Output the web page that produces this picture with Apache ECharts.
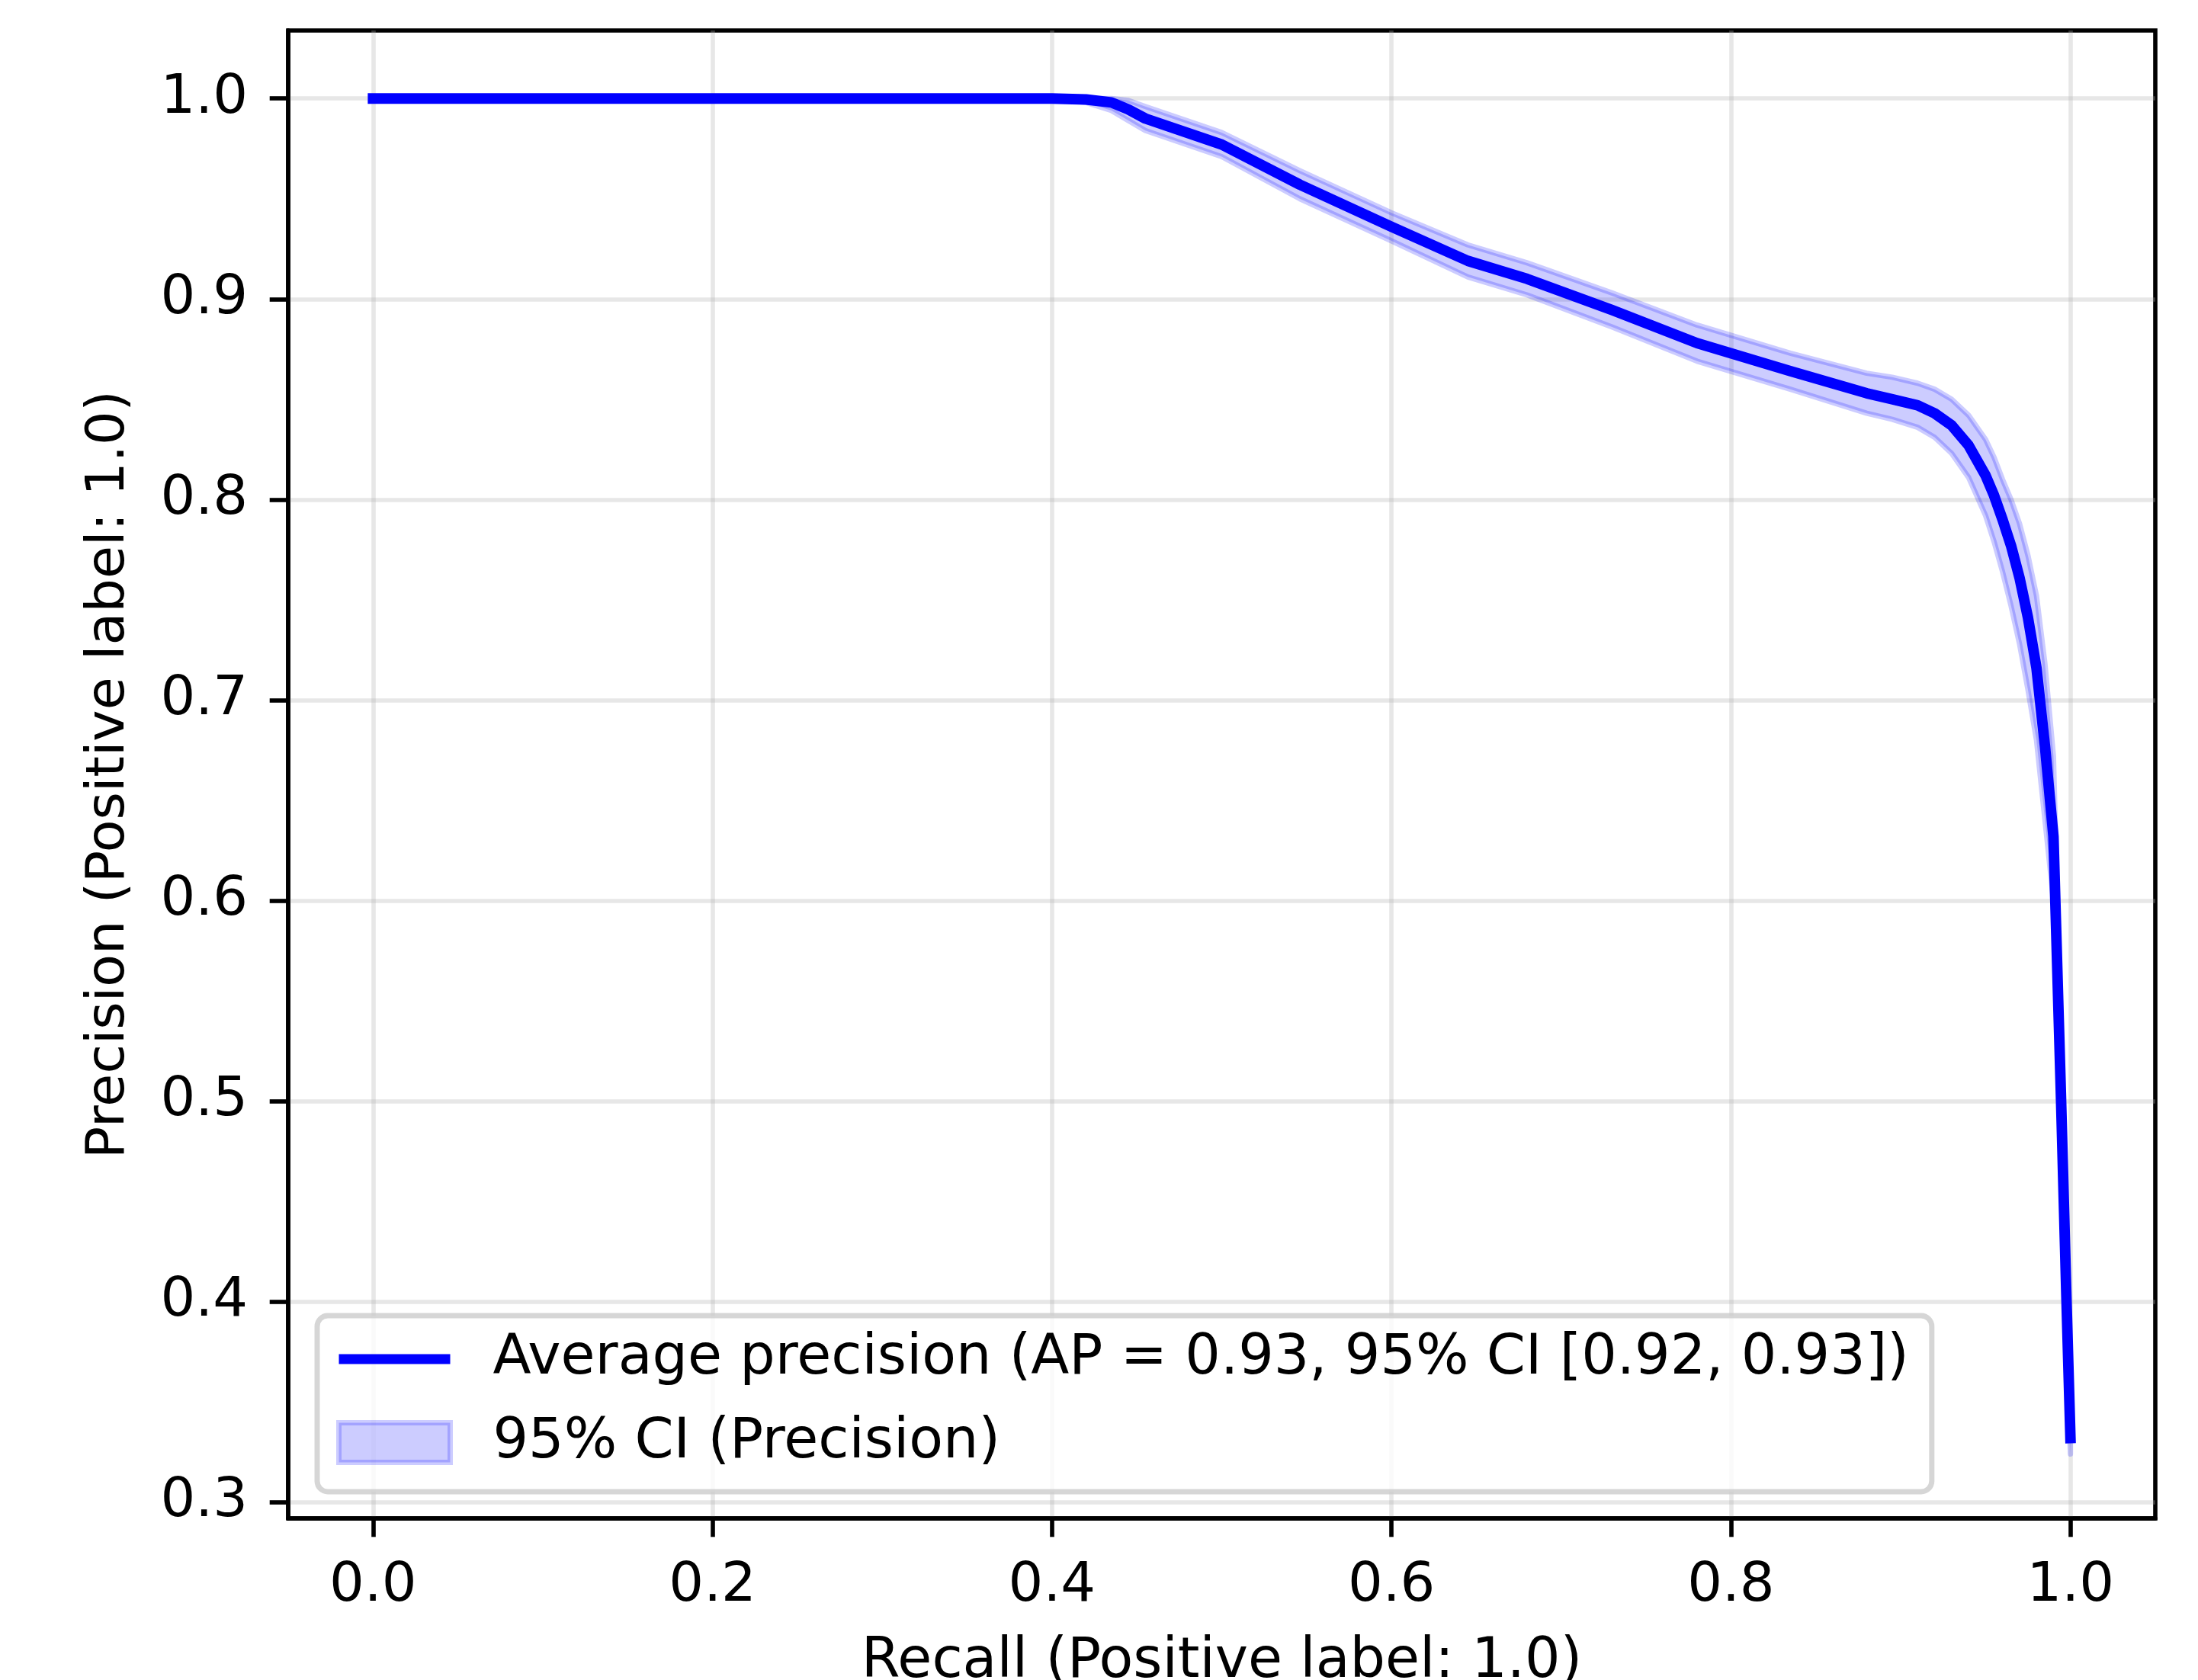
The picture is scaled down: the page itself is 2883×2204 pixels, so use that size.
<!DOCTYPE html>
<html>
<head>
<meta charset="utf-8">
<script src="https://cdn.jsdelivr.net/npm/echarts@6/dist/echarts.min.js"></script>
<style>
  html, body { margin: 0; padding: 0; background: #fff; }
  #chart { width: 2883px; height: 2204px; }
</style>
</head>
<body>
<div id="chart"></div>
<script>
// values
const recall = [0.0, 0.1, 0.2, 0.3, 0.4, 0.42, 0.435, 0.445, 0.455, 0.5, 0.546, 0.6, 0.645, 0.68, 0.73, 0.78, 0.835, 0.88, 0.895, 0.91, 0.92, 0.93, 0.94, 0.95, 0.955, 0.96, 0.965, 0.97, 0.975, 0.98, 0.985, 0.99, 0.9945, 0.9977, 1.0];
const precision = [1.0, 1.0, 1.0, 1.0, 1.0, 0.9995, 0.998, 0.9945, 0.990, 0.977, 0.957, 0.936, 0.919, 0.910, 0.8945, 0.878, 0.864, 0.853, 0.850, 0.847, 0.843, 0.837, 0.827, 0.812, 0.802, 0.790, 0.777, 0.761, 0.741, 0.716, 0.677, 0.632, 0.50, 0.40, 0.332];
const ciLower = [1.0, 1.0, 1.0, 1.0, 1.0, 0.998, 0.994, 0.989, 0.984, 0.971, 0.950, 0.929, 0.911, 0.902, 0.886, 0.869, 0.855, 0.843, 0.840, 0.836, 0.831, 0.823, 0.811, 0.792, 0.779, 0.764, 0.747, 0.728, 0.705, 0.680, 0.640, 0.600, 0.47, 0.37, 0.324];
const ciUpper = [1.0, 1.0, 1.0, 1.0, 1.0, 1.0, 1.0, 0.999, 0.996, 0.983, 0.964, 0.943, 0.927, 0.918, 0.903, 0.887, 0.873, 0.863, 0.861, 0.858, 0.855, 0.850, 0.842, 0.830, 0.821, 0.810, 0.800, 0.788, 0.772, 0.752, 0.718, 0.672, 0.53, 0.43, 0.340];

const xTicks = [0.0, 0.2, 0.4, 0.6, 0.8, 1.0];
const yTicks = [0.3, 0.4, 0.5, 0.6, 0.7, 0.8, 0.9, 1.0];

const lineName = 'Average precision (AP = 0.93, 95% CI [0.92, 0.93])';
const bandName = '95% CI (Precision)';

const FONT = 'DejaVu Sans';
const FS = 73.2;      // legend / x label
const FS_TICK = 72;
const FS_YNAME = 70;
const LH = 72;
const SPINE = 5.6;
const BAND = 'rgba(0,0,255,0.2)';

const chart = echarts.init(document.getElementById('chart'), null, { renderer: 'canvas' });

// fill_between style band: one polygon, upper edge forward then lower edge back
const renderBand = (params, api) => {
  if (params.dataIndex !== 0) return null;
  const pts = [];
  for (let i = 0; i < recall.length; i++) pts.push(api.coord([recall[i], ciUpper[i]]));
  for (let i = recall.length - 1; i >= 0; i--) pts.push(api.coord([recall[i], ciLower[i]]));
  return {
    type: 'polygon',
    shape: { points: pts },
    style: { fill: BAND, stroke: BAND, lineWidth: 7, lineJoin: 'round' }
  };
};

const axisCommon = {
  type: 'value',
  axisLine: { show: true, onZero: false, lineStyle: { color: '#000', width: SPINE } },
  axisTick: { show: true, inside: false, length: 24.3, lineStyle: { color: '#000', width: SPINE } },
  splitLine: { show: true, lineStyle: { color: '#b0b0b0', opacity: 0.3, width: SPINE } },
  nameLocation: 'middle'
};

const tickLabel = (ticks, margin) => ({
  customValues: ticks, margin: margin,
  fontFamily: FONT, fontSize: FS_TICK, color: '#000', lineHeight: LH,
  formatter: v => v.toFixed(1)
});

const option = {
  backgroundColor: '#fff',
  animation: false,
  grid: {
    left: 378, top: 40, width: 2449, height: 1952,
    containLabel: false,
    outerBoundsMode: 'none',
    show: true, borderColor: '#000', borderWidth: SPINE, backgroundColor: 'transparent'
  },
  xAxis: Object.assign({}, axisCommon, {
    min: -0.05, max: 1.05,
    name: 'Recall (Positive label: 1.0)',
    nameGap: 153,
    nameTextStyle: { fontFamily: FONT, fontSize: FS, color: '#000', lineHeight: LH },
    axisTick: Object.assign({}, axisCommon.axisTick, { customValues: xTicks }),
    axisLabel: tickLabel(xTicks, 53)
  }),
  yAxis: Object.assign({}, axisCommon, {
    min: 0.2919, max: 1.0339,
    name: 'Precision (Positive label: 1.0)',
    nameGap: 199,
    nameTextStyle: { fontFamily: FONT, fontSize: FS_YNAME, color: '#000', lineHeight: 70 },
    axisTick: Object.assign({}, axisCommon.axisTick, { customValues: yTicks }),
    axisLabel: tickLabel(yTicks, 53)
  }),
  legend: {
    orient: 'vertical',
    left: 416, top: 1726,
    padding: [20.5, 30, 28, 25],
    itemGap: 36.5,
    itemWidth: 146,
    itemHeight: 52,
    backgroundColor: 'rgba(255,255,255,0.8)',
    borderColor: 'rgba(204,204,204,0.8)',
    borderWidth: 7,
    borderRadius: 14,
    textStyle: { fontFamily: FONT, fontSize: FS, color: '#000', lineHeight: LH, padding: [0, 0, 0, 51] },
    data: [
      {
        name: lineName,
        icon: 'path://M0,0L0.01,0L0,0.01ZM-7,19L153,19L153,33L-7,33ZM146,52L145.99,52L146,51.99Z',
        itemStyle: { color: '#0000ff', borderWidth: 0 }
      },
      {
        name: bandName,
        icon: 'rect',
        itemStyle: { color: BAND, borderColor: BAND, borderWidth: 7 }
      }
    ]
  },
  series: [
    {
      name: bandName, type: 'custom',
      data: recall.map((r, i) => [r, ciLower[i], ciUpper[i]]),
      encode: { x: 0, y: [1, 2] },
      renderItem: renderBand,
      itemStyle: { color: BAND },
      silent: true
    },
    {
      name: lineName, type: 'line',
      data: recall.map((r, i) => [r, precision[i]]),
      symbol: 'none',
      itemStyle: { color: '#0000ff' },
      lineStyle: { color: '#0000ff', width: 13.9, cap: 'square', join: 'round' },
      z: 3
    }
  ]
};

chart.setOption(option);
</script>
</body>
</html>
